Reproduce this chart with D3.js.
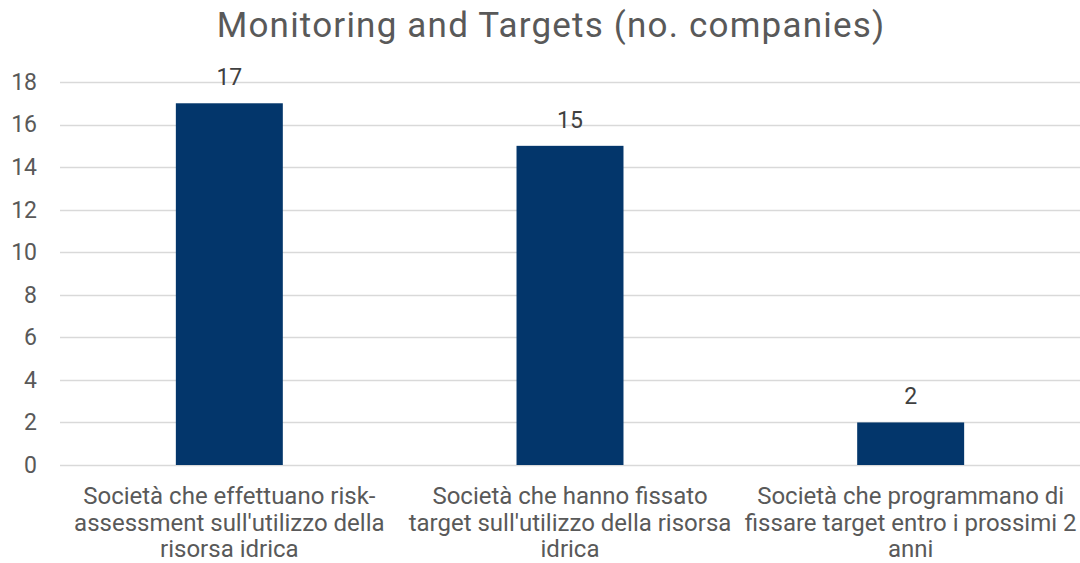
<!DOCTYPE html>
<html>
<head>
<meta charset="utf-8">
<script src="https://cdn.jsdelivr.net/npm/d3@7"></script>
<style>
  html, body { margin: 0; padding: 0; background: #fff; }
  svg { display: block; font-family: Roboto, "Noto Sans", sans-serif; }
</style>
</head>
<body>
<svg id="chart" width="1080" height="563"></svg>
<script>
// Chart data
const categories = [
  "Società che effettuano risk-assessment sull'utilizzo della risorsa idrica",
  "Società che hanno fissato target sull'utilizzo della risorsa idrica",
  "Società che programmano di fissare target entro i prossimi 2 anni"
];
const values = [17, 15, 2];
const yTicks = [0, 2, 4, 6, 8, 10, 12, 14, 16, 18];
const title = "Monitoring and Targets (no. companies)";

const svg = d3.select("#chart");
const W = 1080, H = 563;
const plot = { left: 59, right: 1081, top: 82, bottom: 465 };

const x = d3.scaleBand()
  .domain(categories)
  .range([plot.left, plot.right])
  .paddingInner(0.686)
  .paddingOuter(0.343);

const y = d3.scaleLinear()
  .domain([0, 18])
  .range([plot.bottom, plot.top]);

// Title
svg.append("text")
  .attr("x", 551)
  .attr("y", 37)
  .attr("text-anchor", "middle")
  .attr("font-size", 35)
  .attr("letter-spacing", 1.2)
  .attr("fill", "#595959")
  .text(title);

// Gridlines
svg.append("g")
  .selectAll("line")
  .data(yTicks)
  .join("line")
  .attr("x1", 60)
  .attr("x2", W)
  .attr("y1", d => Math.round(y(d)) + 0.5)
  .attr("y2", d => Math.round(y(d)) + 0.5)
  .attr("stroke", "#d9d9d9")
  .attr("stroke-width", 1.5);

// Y axis labels
const yAxis = d3.axisLeft(y).tickValues(yTicks).tickSize(0).tickPadding(0);
const gy = svg.append("g")
  .attr("transform", `translate(37,0)`)
  .call(yAxis);
gy.select(".domain").remove();
gy.selectAll("text")
  .attr("font-size", 23)
  .attr("font-family", "Roboto, 'Noto Sans', sans-serif")
  .attr("fill", "#595959");

// Bars
const series = categories.map((c, i) => ({ cat: c, val: values[i] }));
svg.append("g")
  .selectAll("rect")
  .data(series)
  .join("rect")
  .attr("x", d => x(d.cat))
  .attr("width", x.bandwidth())
  .attr("y", d => y(d.val))
  .attr("height", d => y(0) - y(d.val))
  .attr("fill", "#03366b");

// Value labels
svg.append("g")
  .selectAll("text")
  .data(series)
  .join("text")
  .attr("x", d => x(d.cat) + x.bandwidth() / 2)
  .attr("y", d => y(d.val) - 18)
  .attr("text-anchor", "middle")
  .attr("font-size", 23)
  .attr("fill", "#404040")
  .text(d => d.val);

// Category labels, wrapped at spaces and hyphens to fit the band step
const labelSize = 24;
const measurer = svg.append("text").attr("font-size", labelSize).attr("visibility", "hidden");
function textWidth(s) { measurer.text(s); return measurer.node().getComputedTextLength(); }
function wrap(label, maxW) {
  const tokens = label.match(/[^\s-]+-?/g);
  const lines = [];
  let cur = "";
  tokens.forEach(tok => {
    const sep = cur === "" || cur.endsWith("-") ? "" : " ";
    const cand = cur + sep + tok;
    if (cur !== "" && textWidth(cand) > maxW) {
      lines.push(cur);
      cur = tok;
    } else {
      cur = cand;
    }
  });
  if (cur) lines.push(cur);
  return lines;
}

const step = x.step();
const xl = svg.append("g");
series.forEach(d => {
  const cx = x(d.cat) + x.bandwidth() / 2;
  const lines = wrap(d.cat, step - 2);
  const t = xl.append("text")
    .attr("x", cx)
    .attr("y", 504)
    .attr("text-anchor", "middle")
    .attr("font-size", labelSize)
    .attr("fill", "#595959");
  lines.forEach((ln, i) => {
    t.append("tspan")
      .attr("x", cx)
      .attr("dy", i === 0 ? 0 : 26.5)
      .text(ln);
  });
});
measurer.remove();
</script>
</body>
</html>
